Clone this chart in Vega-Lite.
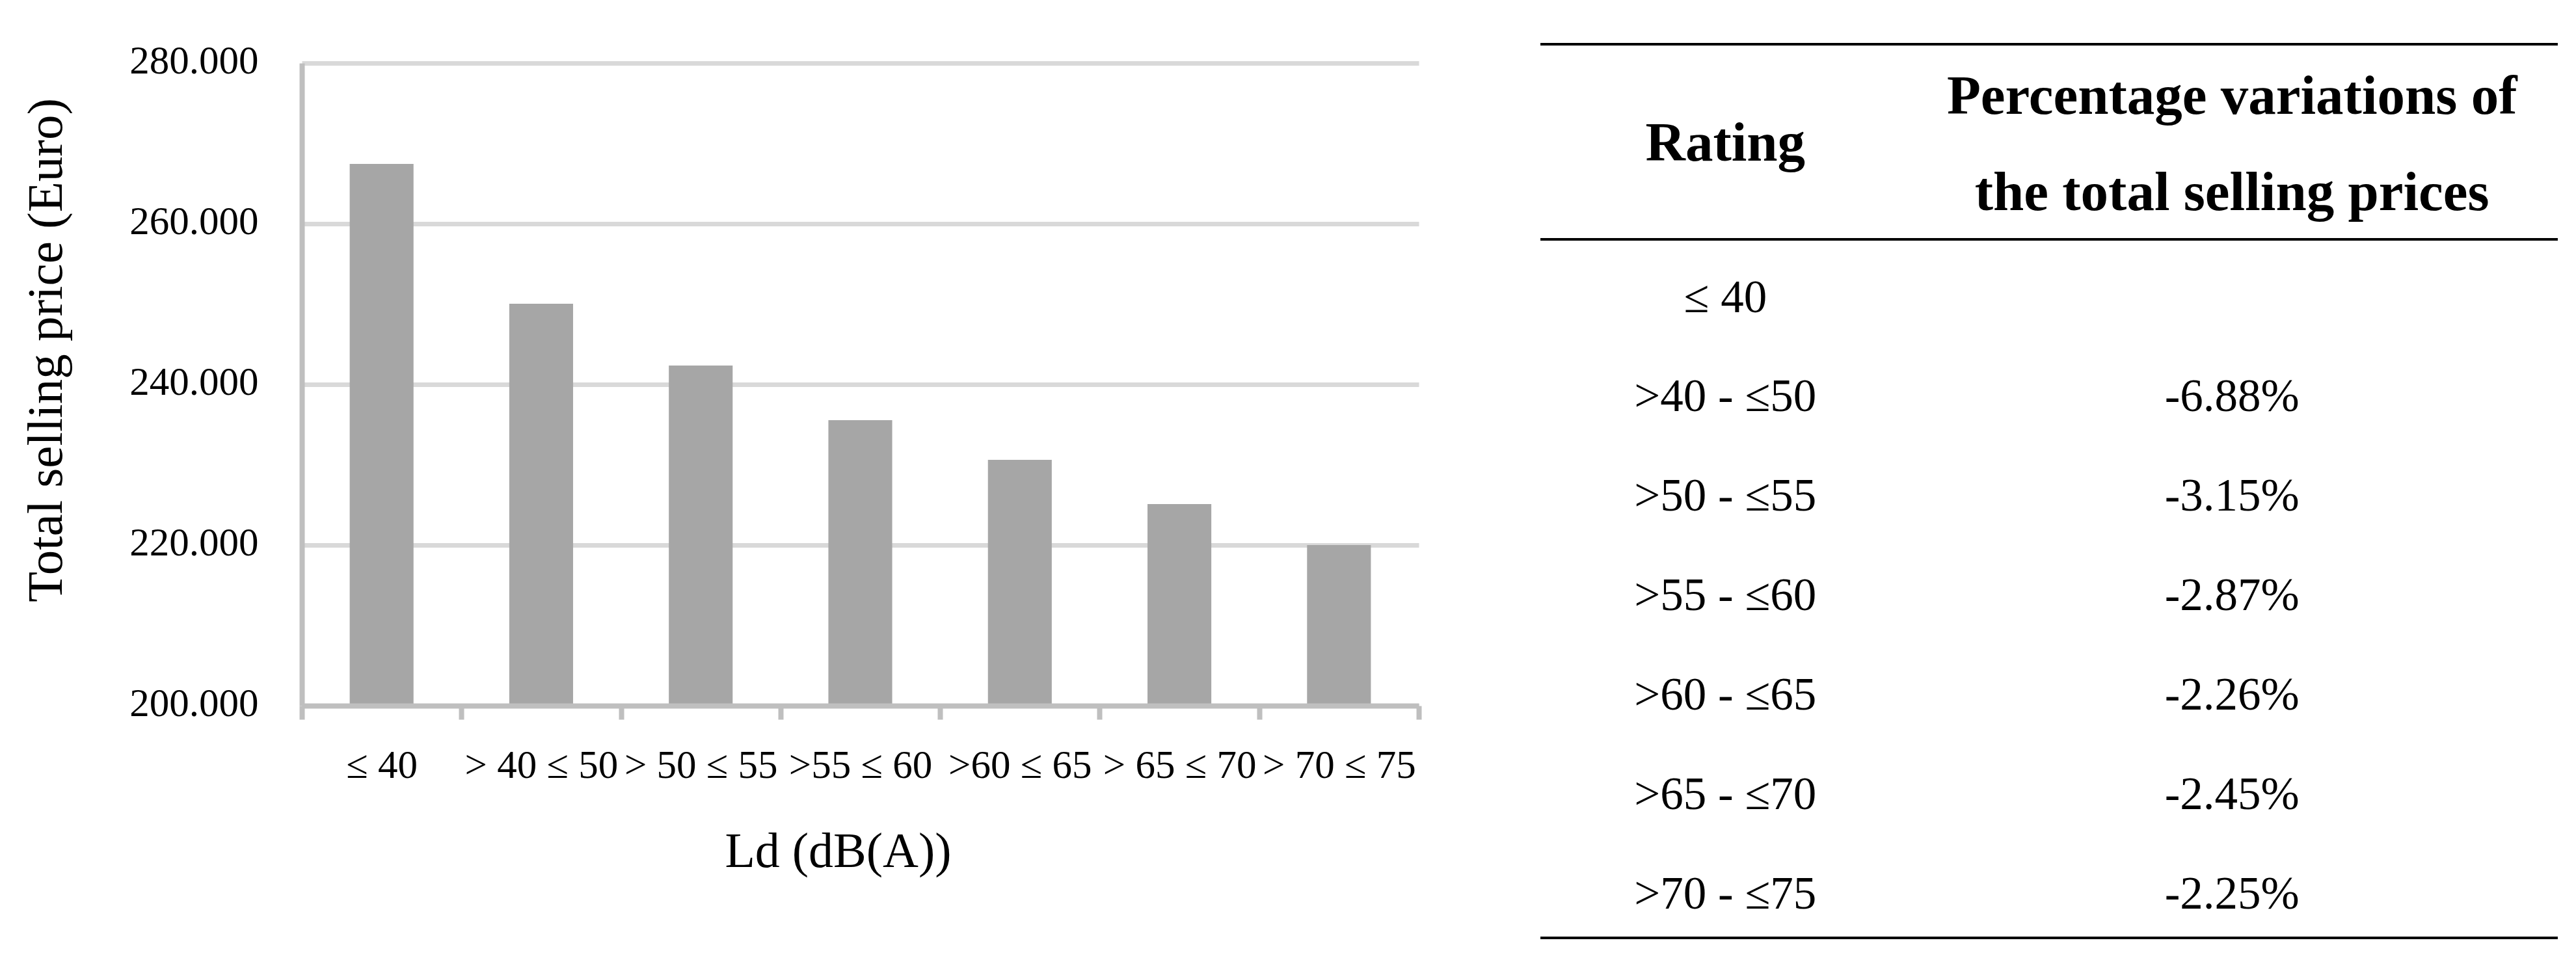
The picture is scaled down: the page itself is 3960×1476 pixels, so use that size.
{
  "$schema": "https://vega.github.io/schema/vega-lite/v6.json",
  "background": "white",
  "padding": {"left": 31, "top": 63, "right": 0, "bottom": 0},
  "bounds": "flush",
  "spacing": 187,
  "config": {
    "view": {"stroke": null},
    "font": "Liberation Serif"
  },
  "datasets": {
    "bars": [
      {"band": "≤ 40", "price": 267450},
      {"band": "> 40 ≤ 50", "price": 250050},
      {"band": "> 50 ≤ 55", "price": 242350},
      {"band": ">55  ≤ 60", "price": 235550},
      {"band": ">60 ≤ 65", "price": 230600},
      {"band": "> 65 ≤ 70", "price": 225100},
      {"band": "> 70 ≤ 75", "price": 220000}
    ],
    "table": [
      {"kind": "head", "col": 1, "row": -0.518, "text": "Rating"},
      {"kind": "head", "col": 2, "row": -0.992, "text": "Percentage variations of"},
      {"kind": "head", "col": 2, "row": -0.024, "text": "the total selling prices"},
      {"kind": "body", "col": 1, "row": 1, "text": "≤ 40"},
      {"kind": "body", "col": 1, "row": 2, "text": ">40 - ≤50"},
      {"kind": "body", "col": 1, "row": 3, "text": ">50 - ≤55"},
      {"kind": "body", "col": 1, "row": 4, "text": ">55 - ≤60"},
      {"kind": "body", "col": 1, "row": 5, "text": ">60 - ≤65"},
      {"kind": "body", "col": 1, "row": 6, "text": ">65 - ≤70"},
      {"kind": "body", "col": 1, "row": 7, "text": ">70 - ≤75"},
      {"kind": "body", "col": 2, "row": 2, "text": "-6.88%"},
      {"kind": "body", "col": 2, "row": 3, "text": "-3.15%"},
      {"kind": "body", "col": 2, "row": 4, "text": "-2.87%"},
      {"kind": "body", "col": 2, "row": 5, "text": "-2.26%"},
      {"kind": "body", "col": 2, "row": 6, "text": "-2.45%"},
      {"kind": "body", "col": 2, "row": 7, "text": "-2.25%"}
    ],
    "rules": [
      {"row": -1.692},
      {"row": 0.270},
      {"row": 7.295}
    ]
  },
  "hconcat": [
    {
      "width": 1717,
      "height": 988,
      "data": {"name": "bars"},
      "mark": {"type": "bar", "color": "#a6a6a6", "width": {"band": 0.4}},
      "encoding": {
        "x": {
          "field": "band",
          "type": "nominal",
          "sort": null,
          "scale": {"paddingInner": 0, "paddingOuter": 0},
          "axis": {
            "title": "Ld (dB(A))",
            "titleFont": "Liberation Serif",
            "titleFontSize": 76,
            "titleFontWeight": "normal",
            "titleColor": "#000000",
            "titleX": 824,
            "titleY": 247,
            "titleBaseline": "alphabetic",
            "titleAlign": "center",
            "labelFont": "Liberation Serif",
            "labelFontSize": 61,
            "labelColor": "#000000",
            "labelAngle": 0,
            "labelBaseline": "alphabetic",
            "labelPadding": 89,
            "labelLimit": 0,
            "labelOverlap": false,
            "domain": true,
            "domainColor": "#bfbfbf",
            "domainWidth": 8,
            "ticks": true,
            "tickColor": "#bfbfbf",
            "tickWidth": 8,
            "tickSize": 21,
            "tickBand": "extent",
            "grid": false,
            "zindex": 1
          }
        },
        "y": {
          "field": "price",
          "type": "quantitative",
          "scale": {"domain": [200000, 280000], "nice": false, "zero": false},
          "axis": {
            "title": "Total selling price (Euro)",
            "titleFont": "Liberation Serif",
            "titleFontSize": 77,
            "titleFontWeight": "normal",
            "titleColor": "#000000",
            "titleX": -370,
            "titleY": 441,
            "titleAngle": -90,
            "titleBaseline": "alphabetic",
            "titleAlign": "center",
            "values": [200000, 220000, 240000, 260000, 280000],
            "labelExpr": "replace(format(datum.value, ','), ',', '.')",
            "labelFont": "Liberation Serif",
            "labelFontSize": 61,
            "labelColor": "#000000",
            "labelPadding": 67,
            "labelLimit": 0,
            "labelOverlap": false,
            "labelOffset": -3,
            "ticks": false,
            "tickSize": 0,
            "domain": true,
            "domainColor": "#bfbfbf",
            "domainWidth": 8,
            "grid": true,
            "gridColor": "#d9d9d9",
            "gridWidth": 7,
            "zindex": 0
          }
        },
        "y2": {"datum": 200000}
      }
    },
    {
      "width": 1564,
      "height": 1345,
      "layer": [
        {
          "data": {"name": "rules"},
          "mark": {"type": "rule", "color": "#000000", "strokeWidth": 4},
          "encoding": {
            "y": {
              "field": "row",
              "type": "quantitative",
              "scale": {"domain": [-1.502, 7.295], "nice": false, "zero": false, "reverse": true},
              "axis": null
            }
          }
        },
        {
          "data": {"name": "table"},
          "transform": [{"filter": "datum.kind === 'head'"}],
          "mark": {"type": "text", "font": "Liberation Serif", "fontSize": 85, "fontWeight": "bold", "color": "#000000", "align": "center", "baseline": "alphabetic"},
          "encoding": {
            "x": {
              "field": "col",
              "type": "quantitative",
              "scale": {"domain": [0.635, 2.643], "nice": false, "zero": false},
              "axis": null
            },
            "y": {
              "field": "row",
              "type": "quantitative",
              "scale": {"domain": [-1.502, 7.295], "nice": false, "zero": false, "reverse": true},
              "axis": null
            },
            "text": {"field": "text"}
          }
        },
        {
          "data": {"name": "table"},
          "transform": [{"filter": "datum.kind === 'body'"}],
          "mark": {"type": "text", "font": "Liberation Serif", "fontSize": 71, "color": "#000000", "align": "center", "baseline": "alphabetic"},
          "encoding": {
            "x": {
              "field": "col",
              "type": "quantitative",
              "scale": {"domain": [0.635, 2.643], "nice": false, "zero": false},
              "axis": null
            },
            "y": {
              "field": "row",
              "type": "quantitative",
              "scale": {"domain": [-1.502, 7.295], "nice": false, "zero": false, "reverse": true},
              "axis": null
            },
            "text": {"field": "text"}
          }
        }
      ]
    }
  ]
}
